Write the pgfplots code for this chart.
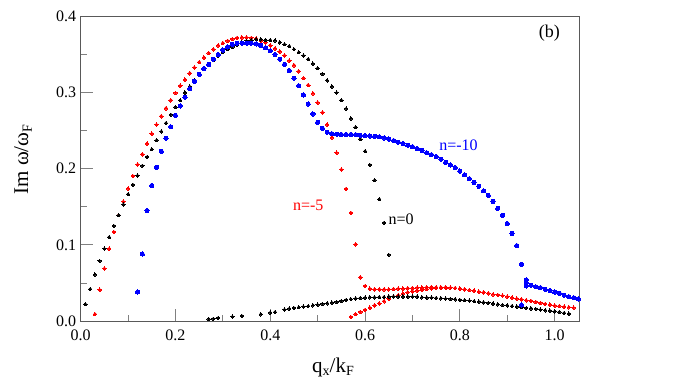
\documentclass[border=0pt]{standalone}
\usepackage{fontspec}
\setmainfont{Liberation Serif}
\usepackage{pgfplots}
\pgfplotsset{compat=1.18}
\begin{document}
\begin{tikzpicture}[x=1pt,y=1pt]
\path[use as bounding box] (0,0) rectangle (692,388);
\begin{axis}[
  at={(80.7pt,67pt)}, anchor=south west, scale only axis,
  width=498.6pt, height=304.5pt,
  xmin=0, xmax=1.052, ymin=0, ymax=0.4,
  xtick={0,0.2,0.4,0.6,0.8,1.0}, minor xtick={0.1,0.3,0.5,0.7,0.9},
  ytick={0,0.1,0.2,0.3,0.4}, minor ytick={0.05,0.15,0.25,0.35},
  tick align=inside, xtick pos=bottom, ytick pos=left,
  major tick length=12pt, minor tick length=6.5pt,
  axis line style={black!65, line width=0.8pt},
  tick style={black!50, line width=0.8pt},
  tick label style={font=\fontsize{16}{18}\selectfont},
  /pgf/number format/assume math mode=true,
  xticklabel style={yshift=-5pt, /pgf/number format/.cd, fixed, fixed zerofill, precision=1},
  yticklabel style={xshift=-1pt, /pgf/number format/.cd, fixed, fixed zerofill, precision=1},
  scaled ticks=false,
  xlabel={q\raisebox{-0.4ex}{\fontsize{14}{14}\selectfont x}/k\raisebox{-0.4ex}{\fontsize{14}{14}\selectfont F}},
  ylabel={Im ω/ω\raisebox{-0.4ex}{\fontsize{14}{14}\selectfont F}},
  xlabel style={at={(rel axis cs:0.506,-0.151)}, anchor=center, font=\fontsize{21}{24}\selectfont},
  ylabel style={at={(rel axis cs:-0.1157,0.53)}, anchor=center, font=\fontsize{21}{24}\selectfont},
  clip=false,
]
% red n=-5
\addplot[red, only marks, mark=*, mark size=1.8pt, mark options={draw=red, fill=red, line width=0pt}] coordinates {
(0.03,0.009)(0.04,0.041)(0.05,0.069)(0.06,0.095)(0.07,0.117)(0.08,0.139)(0.09,0.157)(0.10,0.174)
(0.11,0.1905)(0.12,0.2055)(0.13,0.219)(0.14,0.233)(0.15,0.246)(0.16,0.258)(0.17,0.269)(0.18,0.2795)
(0.19,0.290)(0.20,0.2996)(0.21,0.309)(0.22,0.317)(0.23,0.3255)(0.24,0.333)(0.25,0.340)(0.26,0.346)
(0.27,0.352)(0.28,0.357)(0.29,0.362)(0.30,0.365)(0.31,0.368)(0.32,0.3705)(0.33,0.372)(0.34,0.3725)
(0.35,0.3725)(0.36,0.372)(0.37,0.371)(0.38,0.368)(0.39,0.366)(0.40,0.362)(0.41,0.358)(0.42,0.354)
(0.43,0.349)(0.44,0.342)(0.45,0.336)(0.46,0.328)(0.47,0.319)(0.48,0.310)(0.49,0.299)(0.50,0.287)
(0.51,0.274)(0.52,0.258)(0.53,0.241)(0.54,0.221)(0.55,0.199)(0.56,0.1735)(0.57,0.142)(0.58,0.1008)
(0.59,0.0574)(0.60,0.046)
(0.61,0.0425)(0.62,0.0416)(0.63,0.0416)(0.64,0.0416)(0.65,0.0416)(0.66,0.042)(0.67,0.0425)(0.68,0.0425)
(0.69,0.043)(0.70,0.0433)(0.71,0.0438)(0.72,0.0438)(0.73,0.0442)(0.74,0.0446)(0.75,0.0442)(0.76,0.0442)
(0.77,0.0442)(0.78,0.0438)(0.79,0.0433)(0.80,0.0425)(0.81,0.0416)(0.82,0.0407)(0.83,0.0398)(0.84,0.0385)
(0.85,0.0377)(0.86,0.0364)(0.87,0.0350)(0.88,0.0342)(0.89,0.0333)(0.90,0.0320)(0.91,0.0307)(0.92,0.0294)
(0.93,0.0285)(0.94,0.0272)(0.95,0.0263)(0.96,0.0250)(0.97,0.0237)(0.98,0.0224)(0.99,0.0215)(1.00,0.0202)
(1.01,0.0197)(1.02,0.0188)(1.03,0.0180)(1.04,0.0175)
(0.57,0.0053)(0.58,0.009)(0.59,0.012)(0.60,0.0145)(0.61,0.0175)(0.62,0.0206)(0.63,0.023)(0.64,0.026)
(0.65,0.029)(0.66,0.032)(0.67,0.034)(0.68,0.036)(0.69,0.0377)(0.70,0.039)(0.71,0.040)(0.72,0.041)
(0.73,0.042)(0.74,0.043)(0.75,0.0435)(0.76,0.0438)(0.77,0.0438)
};
% black n=0
\addplot[black, only marks, mark=*, mark size=1.7pt, mark options={draw=black, fill=black, line width=0pt}] coordinates {
(0.01,0.022)(0.02,0.042)(0.03,0.061)(0.04,0.079)(0.05,0.095)(0.06,0.110)(0.07,0.125)(0.08,0.139)
(0.09,0.153)(0.10,0.1665)(0.11,0.179)(0.12,0.191)(0.13,0.204)(0.14,0.2155)(0.15,0.2256)(0.16,0.2375)
(0.17,0.249)(0.18,0.260)(0.19,0.271)(0.20,0.281)(0.21,0.290)(0.22,0.300)(0.23,0.308)(0.24,0.316)
(0.25,0.324)(0.26,0.331)(0.27,0.337)(0.28,0.343)(0.29,0.348)(0.30,0.353)(0.31,0.357)(0.32,0.360)
(0.33,0.363)(0.34,0.366)(0.35,0.368)(0.36,0.369)(0.37,0.370)(0.38,0.370)(0.39,0.369)(0.40,0.369)
(0.41,0.3685)(0.42,0.366)(0.43,0.3635)(0.44,0.361)(0.45,0.357)(0.46,0.353)(0.47,0.3486)(0.48,0.344)
(0.49,0.338)(0.50,0.332)(0.51,0.3246)(0.52,0.316)(0.53,0.308)(0.54,0.300)(0.55,0.290)(0.56,0.279)
(0.57,0.266)(0.58,0.2545)(0.59,0.239)(0.60,0.223)(0.61,0.205)(0.62,0.185)(0.63,0.160)(0.64,0.129)
(0.65,0.087)
(0.27,0.0026)(0.28,0.003)(0.29,0.004)(0.32,0.0057)(0.34,0.0066)(0.38,0.0088)(0.40,0.011)(0.41,0.0118)
(0.43,0.0149)(0.44,0.0162)(0.45,0.0171)(0.46,0.018)(0.47,0.0188)(0.48,0.0197)(0.49,0.0206)(0.50,0.0215)
(0.51,0.0224)(0.52,0.0232)(0.53,0.0241)(0.54,0.025)(0.55,0.0263)(0.56,0.0276)(0.57,0.0288)(0.58,0.0296)
(0.59,0.0302)(0.60,0.0307)(0.61,0.0311)(0.62,0.0311)(0.63,0.0315)(0.64,0.0315)(0.65,0.032)(0.66,0.032)
(0.67,0.032)(0.68,0.032)(0.69,0.032)(0.70,0.032)(0.71,0.032)(0.72,0.0311)(0.73,0.0307)(0.74,0.0307)
(0.75,0.0302)(0.76,0.0298)(0.77,0.0294)(0.78,0.029)(0.79,0.0285)(0.80,0.0276)(0.81,0.0272)(0.82,0.0268)
(0.83,0.0259)(0.84,0.0254)(0.85,0.0245)(0.86,0.0237)(0.87,0.0228)(0.88,0.0219)(0.89,0.021)(0.90,0.0206)
(0.91,0.0197)(0.92,0.0188)(0.93,0.018)(0.94,0.0171)(0.95,0.0166)(0.96,0.0158)(0.97,0.0149)(0.98,0.014)
(0.99,0.0136)(1.00,0.0127)(1.01,0.0118)(1.02,0.0105)(1.03,0.0096)
};
% blue n=-10
\addplot[blue, only marks, mark=*, mark size=2.1pt, mark options={draw=blue, fill=blue, line width=0pt}] coordinates {
(0.12,0.038)(0.13,0.088)(0.14,0.145)(0.15,0.178)(0.16,0.202)(0.17,0.223)(0.18,0.240)(0.19,0.255)
(0.20,0.270)(0.21,0.2825)(0.22,0.294)(0.23,0.305)(0.24,0.315)(0.25,0.324)(0.26,0.3315)(0.27,0.337)
(0.28,0.344)(0.29,0.350)(0.30,0.356)(0.31,0.360)(0.32,0.3635)(0.33,0.365)(0.34,0.365)(0.35,0.365)
(0.36,0.365)(0.37,0.364)(0.38,0.362)(0.39,0.359)(0.40,0.355)(0.41,0.350)(0.42,0.344)(0.43,0.337)
(0.44,0.329)(0.45,0.319)(0.46,0.309)(0.47,0.297)(0.48,0.285)(0.49,0.272)(0.50,0.261)(0.51,0.253)
(0.52,0.248)(0.53,0.246)(0.54,0.2455)(0.55,0.245)(0.56,0.245)(0.57,0.245)(0.58,0.2448)(0.59,0.2438)
(0.60,0.2435)(0.61,0.243)(0.62,0.2425)(0.63,0.242)(0.64,0.2405)(0.65,0.239)(0.66,0.237)(0.67,0.235)
(0.68,0.233)(0.69,0.231)(0.70,0.229)(0.71,0.2265)(0.72,0.224)(0.73,0.221)(0.74,0.2185)(0.75,0.216)
(0.76,0.2125)(0.77,0.2085)(0.78,0.205)(0.79,0.2015)(0.80,0.197)(0.81,0.192)(0.82,0.187)(0.83,0.182)
(0.84,0.177)(0.85,0.171)(0.86,0.165)(0.87,0.157)(0.88,0.148)(0.89,0.139)(0.90,0.128)(0.91,0.115)
(0.92,0.099)(0.93,0.0745)(0.94,0.054)(0.94,0.050)(0.94,0.046)(0.95,0.047)(0.96,0.045)(0.97,0.0438)
(0.98,0.0416)(0.99,0.040)(1.00,0.038)(1.01,0.0364)(1.02,0.034)(1.03,0.032)(1.04,0.0306)(1.05,0.029)
(0.93,0.021)
};
\node[red, font=\fontsize{16}{18}\selectfont] at (axis cs:0.480,0.152) {n=-5};
\node[black, font=\fontsize{16}{18}\selectfont] at (axis cs:0.676,0.134) {n=0};
\node[blue, font=\fontsize{16}{18}\selectfont] at (axis cs:0.797,0.231) {n=-10};
\node[black, font=\fontsize{18}{20}\selectfont] at (axis cs:0.989,0.378) {(b)};
\end{axis}
\end{tikzpicture}
\end{document}
